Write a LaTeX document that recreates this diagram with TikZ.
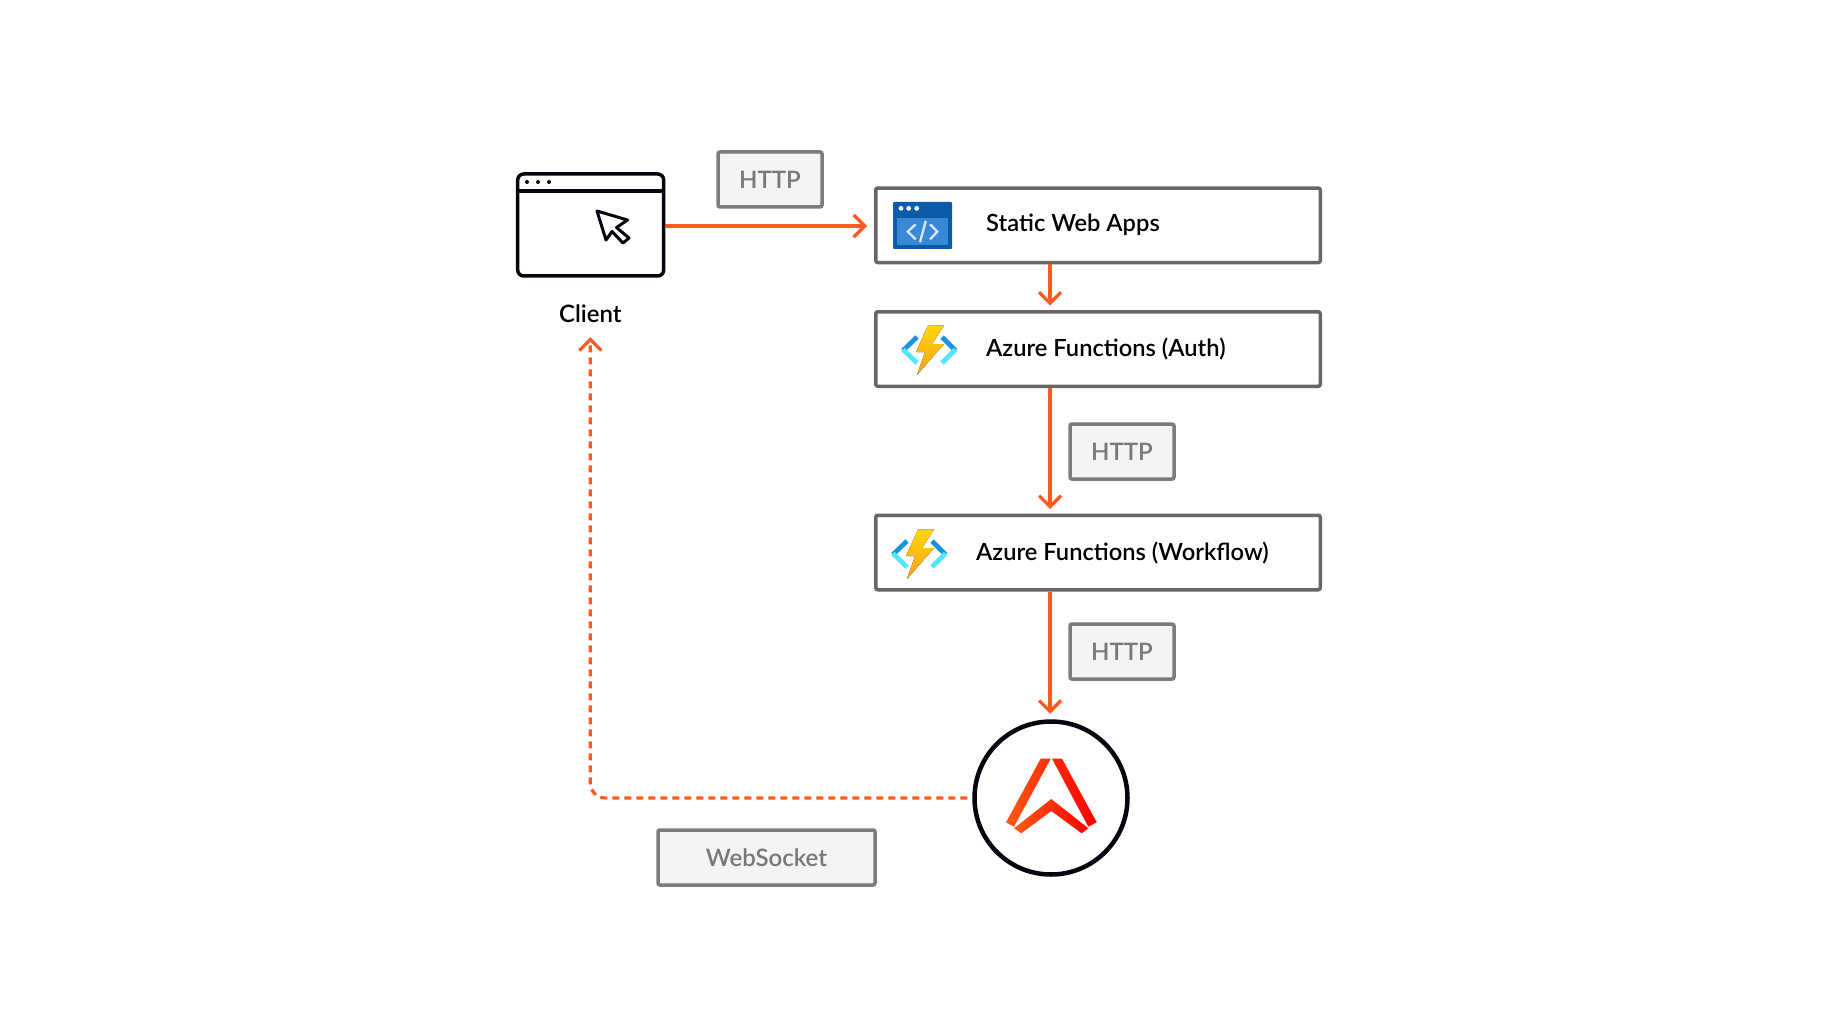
\documentclass[tikz,border=0pt]{standalone}
\usepackage{fontspec}
\setmainfont{Lato}[BoldFont={Lato Semibold}]
\usetikzlibrary{arrows.meta,calc}
\definecolor{flow}{HTML}{FF5A1F}
\definecolor{boxline}{HTML}{666666}
\definecolor{tagline}{HTML}{7B7B80}
\definecolor{tagfill}{HTML}{F4F4F5}
\definecolor{tagtext}{HTML}{77777C}
\definecolor{ink}{HTML}{05050F}
\definecolor{FYa}{HTML}{FFD60A}
\definecolor{FYb}{HTML}{F9A01B}
\definecolor{azdark}{HTML}{1B93DC}
\definecolor{azlight}{HTML}{50E6FF}
\definecolor{swaDark}{HTML}{0B5CA8}
\definecolor{swaMid}{HTML}{3A87D6}
\definecolor{swaCode}{HTML}{D5E8F7}
\definecolor{LGa}{HTML}{FF5A14}
\definecolor{LGb}{HTML}{FF2A08}
\definecolor{LGc}{HTML}{FF0000}
\tikzset{
  x=1pt,y=-1pt,
  svc/.style={draw=boxline,line width=3.5pt,rounded corners=2pt,minimum width=444.5pt,minimum height=74.5pt,inner sep=0pt,fill=white},
  svctext/.style={inner sep=0pt,anchor=west,font=\fontsize{23.7}{28}\selectfont\bfseries,text=black},
  tag/.style={draw=tagline,fill=tagfill,line width=3.5pt,rounded corners=2pt,minimum height=55pt,inner sep=0pt,font=\fontsize{24}{28}\selectfont\bfseries,text=tagtext},
  conn/.style={draw=flow,line width=3.2pt,-{Straight Barb[length=11pt,width=22pt,line width=3.2pt]}},
  dotconn/.style={conn,dash pattern=on 7pt off 5pt,rounded corners=15pt},
  winline/.style={draw=ink,line width=3.5pt},
  azbar/.style={line width=4.7pt},
}
\newcommand{\azure}[2]{%
  \begin{scope}[shift={(#1,#2)}]
    \draw[azbar,azdark] (917,337)--(903,350.5);
    \draw[azbar,azlight] (903,349.5)--(917,363);
    \draw[azbar,azdark] (942,337)--(955.5,350.5);
    \draw[azbar,azlight] (955.5,349.5)--(942,363);
    \fill[top color=FYa,bottom color=FYb] (928,325.5)--(944,325.5)--(932,344)--(944,344)--(917,375)--(925,352)--(916,352)--cycle;
  \end{scope}}
\begin{document}
\begin{tikzpicture}
\useasboundingbox[fill=white] (0,0) rectangle (1840,1035);

% client window
\node[draw=ink,line width=3.5pt,rounded corners=6pt,minimum width=146pt,minimum height=102pt,inner sep=0pt] (client) at (590.7,225) {};
\draw[winline] (client.west |- 0,191) -- (client.east |- 0,191);
\fill[ink] (527,182) circle (2pt) (538,182) circle (2pt) (549,182) circle (2pt);
\draw[draw=ink,line width=3pt,line join=round] (597,211)--(627.5,220)--(616.5,227.5)--(629,238)--(623,243)--(612,231.5)--(606,240)--cycle;
\node[inner sep=0pt,minimum height=46pt,font=\fontsize{24}{28}\selectfont\bfseries,text=black] (clientlabel) at (590.3,314) {Client};

% service boxes
\node[svc] (static) at (1098,225.3) {};
\node[svc] (auth) at (1098,349) {};
\node[svc] (workflow) at (1098,552.5) {};
\node[svctext] (statictext) at (986,225) {Static Web Apps};
\node[svctext] (authtext) at (986,349) {Azure Functions (Auth)};
\node[svctext] (workflowtext) at (976,553) {Azure Functions (Workflow)};

% static web apps icon
\fill[swaDark,rounded corners=1pt] (893,202) rectangle (952,249);
\fill[swaMid] (897.3,217.7) rectangle (948.3,245.5);
\fill[white] (901,208.3) circle (2.4pt) (908.7,208.3) circle (2.4pt) (916.7,208.3) circle (2.4pt);
\draw[swaCode,line width=2.3pt] (915.7,224.3)--(907.7,231.7)--(915.7,239.3);
\draw[swaCode,line width=2.3pt] (930,224.3)--(937.3,231.7)--(930,239.3);
\draw[swaCode,line width=2.3pt] (925.7,221)--(920,242.3);

% function icons
\azure{0}{0}
\azure{-10}{204}

% ably circle
\node[draw=ink,line width=4.5pt,circle,minimum size=153pt,inner sep=0pt] (ably) at (1051,798) {};
\path[left color=LGa,right color=LGb] (1040.7,758.7)--(1050.7,758.7)--(1014,826.7)--(1006,822.3)--cycle;
\path[left color=LGb,right color=LGc] (1052,758.7)--(1062,758.7)--(1096.7,822.3)--(1088.3,826.7)--cycle;
\path[left color=LGa,right color=LGc] (1051.3,799)--(1088.3,828.3)--(1081.7,833.3)--(1051.3,811)--(1021.3,833.3)--(1014,828.3)--cycle;

% tags
\node[tag,minimum width=104pt] (tagone) at (770,179.5) {HTTP};
\node[tag,minimum width=104pt] (tagtwo) at (1122,451.5) {HTTP};
\node[tag,minimum width=104pt] (tagthree) at (1122,651.5) {HTTP};
\node[tag,minimum width=217pt] (tagfour) at (766.5,857.5) {WebSocket};

% connectors
\coordinate (spine) at (1050,0);
\draw[conn,shorten >=7pt] (client.east |- 0,226) -- (static.west |- 0,226);
\draw[conn,shorten >=4.5pt] (static.south -| spine) -- (auth.north -| spine);
\draw[conn,shorten >=4.5pt] (auth.south -| spine) -- (workflow.north -| spine);
\draw[conn,shorten >=5.5pt] (workflow.south -| spine) -- (ably.north -| spine);
\draw[dotconn,shorten <=5pt] (ably.west) -| (clientlabel.south);
\end{tikzpicture}
\end{document}
